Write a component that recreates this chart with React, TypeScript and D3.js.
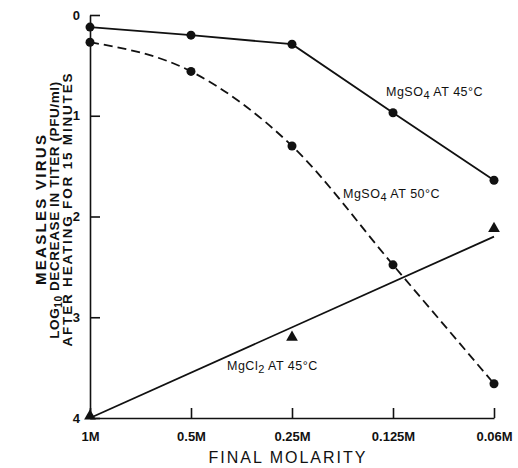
import React, { useRef, useEffect } from 'react';
import * as d3 from 'd3';

// x categories (final molarity) and y ticks (log10 decrease)
const molarities = ['1M', '0.5M', '0.25M', '0.125M', '0.06M'];
const yTicks = [0, 1, 2, 3, 4];

// MgSO4 at 45°C, solid line with dots
const mgso4At45 = [0.12, 0.2, 0.29, 0.97, 1.64];
// MgSO4 at 50°C, dashed curve with dots
const mgso4At50 = [0.27, 0.56, 1.3, 2.48, 3.66];
// MgCl2 at 45°C, triangles (only three measured) and its straight fit line
const mgcl2Points = [
  { m: '1M', v: 4.0 },
  { m: '0.25M', v: 3.22 },
  { m: '0.06M', v: 2.14 },
];
const mgcl2Fit = [
  { m: '1M', v: 4.0 },
  { m: '0.06M', v: 2.2 },
];

const FONT = '"Liberation Sans", Arial, Helvetica, sans-serif';

const App = () => {
  const svgRef = useRef<SVGSVGElement>(null);

  useEffect(() => {
    const svg = d3.select(svgRef.current);
    svg.selectAll('*').remove();

    const x = d3.scalePoint<string>().domain(molarities).range([90, 494]);
    const y = d3.scaleLinear().domain([0, 4]).range([15, 418]);

    // axes, ticks point inward
    const yAxis = svg.append('g')
      .attr('transform', 'translate(90,0)')
      .call(d3.axisLeft(y).tickValues(yTicks).tickFormat(d3.format('d'))
        .tickSizeInner(-10).tickSizeOuter(0).tickPadding(10));
    const xAxis = svg.append('g')
      .attr('transform', 'translate(0,418)')
      .call(d3.axisBottom(x).tickSizeInner(-10).tickSizeOuter(0).tickPadding(14));

    [yAxis, xAxis].forEach(a => {
      a.selectAll('path, line').attr('stroke', '#111').attr('stroke-width', 1.6);
      a.selectAll('text')
        .attr('fill', '#111')
        .style('font-family', FONT)
        .style('font-size', '13px')
        .style('font-weight', 'bold');
    });

    const line = d3.line<number>()
      .x((_, i) => x(molarities[i])!)
      .y(d => y(d));

    svg.append('path')
      .attr('d', line(mgso4At45))
      .attr('fill', 'none').attr('stroke', '#111').attr('stroke-width', 1.8);

    svg.append('path')
      .attr('d', line.curve(d3.curveMonotoneX)(mgso4At50))
      .attr('fill', 'none').attr('stroke', '#111').attr('stroke-width', 1.8)
      .attr('stroke-dasharray', '9,5');

    const fit = d3.line<{ m: string; v: number }>()
      .x(d => x(d.m)!)
      .y(d => y(d.v));
    svg.append('path')
      .attr('d', fit(mgcl2Fit))
      .attr('fill', 'none').attr('stroke', '#111').attr('stroke-width', 1.8);

    [mgso4At45, mgso4At50].forEach(series => {
      svg.append('g').selectAll('circle')
        .data(series)
        .enter().append('circle')
        .attr('cx', (_, i) => x(molarities[i])!)
        .attr('cy', d => y(d))
        .attr('r', 4.5)
        .attr('fill', '#111');
    });

    const tri = d3.symbol().type(d3.symbolTriangle).size(60);
    svg.append('g').selectAll('path')
      .data(mgcl2Points)
      .enter().append('path')
      .attr('d', tri())
      .attr('transform', d => `translate(${x(d.m)},${y(d.v) - 2})`)
      .attr('fill', '#111');

    // series annotations
    const notes = [
      { x: 386, y: 96, pre: 'MgSO', sub: '4', post: ' AT 45°C' },
      { x: 343, y: 198, pre: 'MgSO', sub: '4', post: ' AT 50°C' },
      { x: 227, y: 370, pre: 'MgCl', sub: '2', post: ' AT 45°C' },
    ];
    notes.forEach(n => {
      const t = svg.append('text')
        .attr('x', n.x).attr('y', n.y)
        .attr('fill', '#111')
        .style('font-family', FONT)
        .style('font-size', '12.5px')
        .style('letter-spacing', '0.5px');
      t.append('tspan').text(n.pre);
      t.append('tspan').attr('dy', 3).style('font-size', '11px').text(n.sub);
      t.append('tspan').attr('dy', -3).text(n.post);
    });

    // axis titles
    svg.append('text')
      .attr('x', 288).attr('y', 463)
      .attr('text-anchor', 'middle')
      .attr('fill', '#111')
      .style('font-family', FONT)
      .style('font-size', '16px')
      .style('letter-spacing', '2px')
      .text('FINAL MOLARITY');

    const yTitle = svg.append('g')
      .attr('transform', 'translate(0,210) rotate(-90)')
      .style('font-family', FONT)
      .style('font-weight', 'bold')
      .attr('fill', '#111')
      .attr('text-anchor', 'middle');
    yTitle.append('text')
      .attr('x', 0).attr('y', 46)
      .attr('textLength', 150)
      .style('font-size', '15px')
      .text('MEASLES VIRUS');
    const l2 = yTitle.append('text')
      .attr('x', 0).attr('y', 59)
      .style('font-size', '13.5px')
      .style('letter-spacing', '0.6px');
    l2.append('tspan').text('LOG');
    l2.append('tspan').attr('dy', 3).style('font-size', '10px').text('10');
    l2.append('tspan').attr('dy', -3).text(' DECREASE IN TITER (PFU/ml)');
    yTitle.append('text')
      .attr('x', 0).attr('y', 72)
      .attr('textLength', 273)
      .style('font-size', '13.5px')
      .text('AFTER HEATING FOR 15 MINUTES');
  }, []);

  return (
    <svg ref={svgRef} width={518} height={468}
      style={{ position: 'absolute', left: 0, top: 0, background: '#fff' }} />
  );
};

export default App;
